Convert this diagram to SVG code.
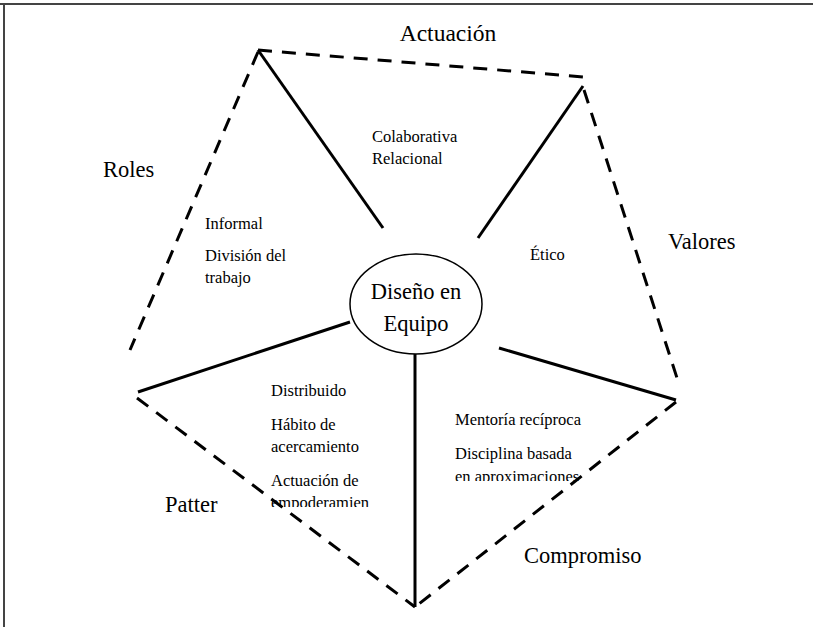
<svg xmlns="http://www.w3.org/2000/svg" width="813" height="627" viewBox="0 0 813 627">
<defs>
<style>
.d{stroke:#000;stroke-width:3;stroke-dasharray:14 10;fill:none}
.s{stroke:#000;stroke-width:3;fill:none}
text{font-family:'Liberation Serif','Times New Roman',serif;fill:#000}
.t{font-size:16.5px}
.L{font-size:22.5px}
</style>
<clipPath id="c2"><rect x="260" y="375" width="113" height="132"/></clipPath>
<clipPath id="c3"><rect x="445" y="405" width="170" height="76"/></clipPath>
</defs>
<rect x="0" y="0" width="813" height="627" fill="#fff"/>
<line x1="0" y1="4" x2="813" y2="4" stroke="#444" stroke-width="2"/>
<line x1="4" y1="4" x2="4" y2="627" stroke="#444" stroke-width="2"/>
<g id="connectors">
<line class="d" x1="258" y1="50" x2="583" y2="77"/>
<line class="d" x1="258" y1="52" x2="130" y2="350"/>
<line class="d" x1="584" y1="90" x2="677" y2="378"/>
<line class="d" x1="137" y1="398" x2="415" y2="607"/>
<line class="d" x1="676" y1="402" x2="415" y2="607"/>
<line class="s" x1="258" y1="50" x2="383" y2="228"/>
<line class="s" x1="583" y1="86" x2="478" y2="238"/>
<line class="s" x1="138" y1="392" x2="350" y2="322"/>
<line class="s" x1="499" y1="348" x2="676" y2="400"/>
<line class="s" x1="415" y1="354" x2="415" y2="607"/>
</g>
<g id="center">
<ellipse cx="416" cy="304" rx="66" ry="50" fill="#fff" stroke="#000" stroke-width="1.5"/>
<text class="L" x="416" y="299" text-anchor="middle">Diseño en</text>
<text class="L" x="416" y="331" text-anchor="middle">Equipo</text>
</g>
<g id="labels">
<text class="L" x="448" y="41" text-anchor="middle" style="font-size:23.5px">Actuación</text>
<text class="L" x="103" y="177">Roles</text>
<text class="L" x="668" y="249">Valores</text>
<text class="L" x="165" y="512">Patter</text>
<text class="L" x="524" y="563">Compromiso</text>
</g>
<g id="actuacion-text">
<text class="t" x="372" y="142">Colaborativa</text>
<text class="t" x="372" y="164">Relacional</text>
</g>
<g id="roles-text">
<text class="t" x="205" y="229">Informal</text>
<text class="t" x="205" y="261">División del</text>
<text class="t" x="205" y="283">trabajo</text>
</g>
<g id="valores-text">
<text class="t" x="530" y="260">Ético</text>
</g>
<g id="patter-text" clip-path="url(#c2)">
<text class="t" x="271" y="396">Distribuido</text>
<text class="t" x="271" y="430">Hábito de</text>
<text class="t" x="271" y="452">acercamiento</text>
<text class="t" x="271" y="486">Actuación de</text>
<text class="t" x="271" y="508">empoderamien</text>
</g>
<g id="compromiso-text" clip-path="url(#c3)">
<text class="t" x="455" y="425">Mentoría recíproca</text>
<text class="t" x="455" y="459">Disciplina basada</text>
<text class="t" x="455" y="482">en aproximaciones</text>
</g>
</svg>
